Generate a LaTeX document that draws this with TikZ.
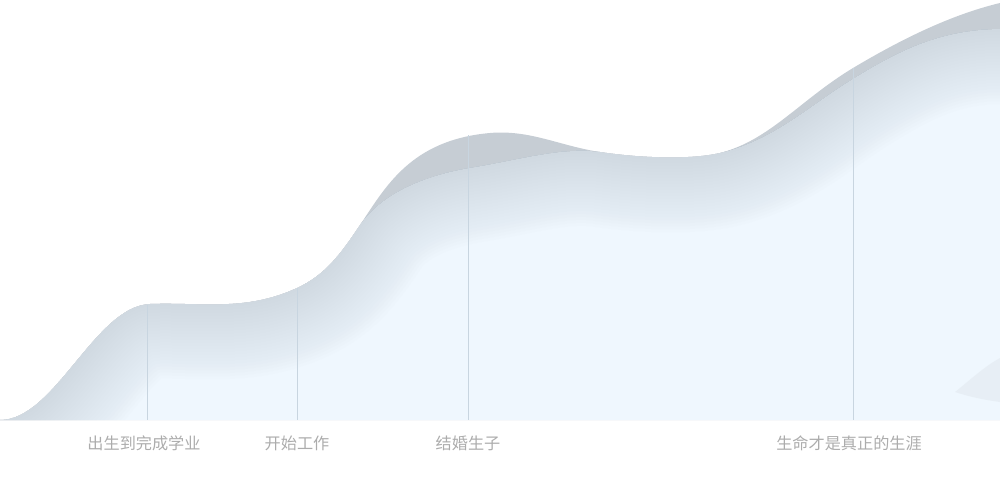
\documentclass[tikz,border=0pt]{standalone}
\usepackage{fontspec}
\newfontfamily\cjk{Noto Sans CJK SC}
\usepackage{xcolor}
\definecolor{backgray}{RGB}{198,205,212}
\definecolor{frontblue}{RGB}{239,247,254}
\definecolor{glowgray}{RGB}{192,202,211}
\definecolor{lobegray}{RGB}{222,229,235}
\definecolor{tickline}{RGB}{200,213,224}
\definecolor{lblgray}{RGB}{172,172,172}

\tikzset{
  frontcurve/.style={insert path={(0,420) .. controls (55,420) and (95,306) .. (150,304)
    .. controls (200,302) and (245,312) .. (297,288)
    .. controls (325,275) and (340,255) .. (360,225)
    .. controls (372,208) and (400,180) .. (470,168)
    .. controls (520,160) and (560,147) .. (600,152)
    .. controls (640,158) and (690,160) .. (720,153)
    .. controls (775,140) and (810,105) .. (853,79)
    .. controls (900,50) and (940,30) .. (1000,29)}},
  backcurve/.style={insert path={(0,420) .. controls (55,420) and (95,306) .. (150,304)
    .. controls (200,302) and (245,312) .. (297,288)
    .. controls (325,275) and (340,255) .. (360,225)
    .. controls (385,188) and (410,140) .. (490,133)
    .. controls (530,129.5) and (560,146) .. (600,152)
    .. controls (640,158) and (690,160) .. (720,153)
    .. controls (770,140) and (800,100) .. (853,68)
    .. controls (900,40) and (950,15) .. (1000,3)}}
}

\begin{document}
\begin{tikzpicture}[x=0.02cm, y=-0.02cm,
  lbl/.style={font=\cjk\fontsize{9.2}{11}\selectfont, text=lblgray, inner sep=0pt, anchor=center},
  tick/.style={draw=tickline, line width=0.55pt},
  glow/.style={draw=glowgray, draw opacity=0.028, line cap=round}
]
\useasboundingbox (0,0) rectangle (1000,500);

% layers
\fill[backgray, backcurve] -- (1000,420) -- (0,420) -- cycle;
\fill[frontblue, frontcurve] -- (1000,420) -- (0,420) -- cycle;
\begin{scope}
  \clip[frontcurve] -- (1000,420) -- (0,420) -- cycle;
  \foreach \w in {6,12,...,150}
    \draw[glow, line width=\w*0.2mm, frontcurve];
  \fill[lobegray, opacity=0.45] (955,392) .. controls (970,380) and (985,366) .. (1000,358)
    -- (1000,402) .. controls (985,400) and (970,397) .. cycle;
\end{scope}

% ticks
\coordinate (t1) at (147,305);
\coordinate (b1) at (147,420);
\coordinate (t2) at (297,288);
\coordinate (b2) at (297,420);
\coordinate (t3) at (468,135);
\coordinate (b3) at (468,420);
\coordinate (t4) at (853,68);
\coordinate (b4) at (853,420);
\draw[tick] (t1) -- (b1);
\draw[tick] (t2) -- (b2);
\draw[tick] (t3) -- (b3);
\draw[tick] (t4) -- (b4);

% labels
\node[lbl] (l1) at (144,443) {出生到完成学业};
\node[lbl] (l2) at (297,443) {开始工作};
\node[lbl] (l3) at (468,443) {结婚生子};
\node[lbl] (l4) at (849,443) {生命才是真正的生涯};
\end{tikzpicture}
\end{document}
